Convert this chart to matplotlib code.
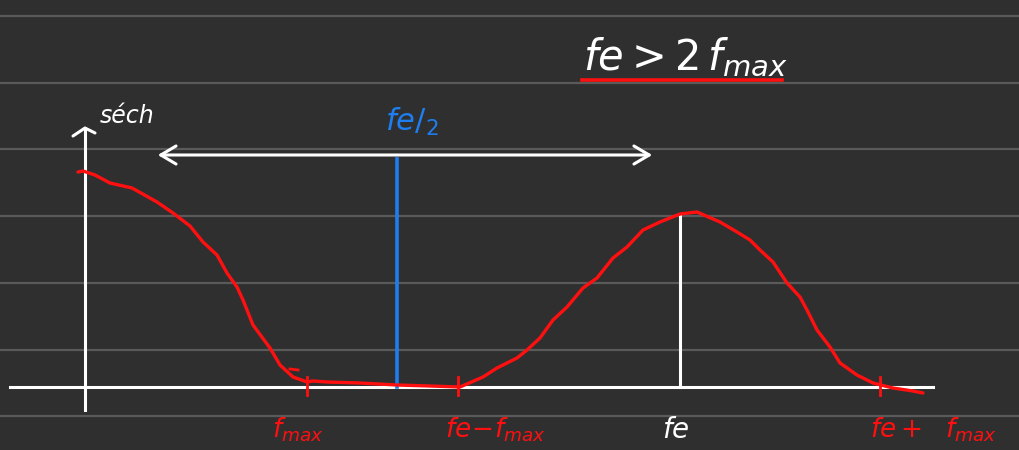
import numpy as np
import matplotlib
matplotlib.use("Agg")
import matplotlib.pyplot as plt

# sketch of a sampled spectrum (pixel-like units: x to the right, amplitude above the axis)
baseline = 387
curve_x = [78, 83, 95, 110, 132, 157, 173, 190, 203, 217, 227, 237, 243, 253, 270, 280,
           293, 307, 313, 327, 360, 397, 430, 460, 483, 497, 517, 527, 540, 553, 567,
           583, 597, 613, 627, 643, 660, 680, 697, 720, 737, 750, 760, 773, 787, 800,
           807, 817, 830, 840, 857, 873, 893, 913, 923]
curve_amp = [215, 216, 212, 204, 199, 185, 174, 161, 145, 132, 114, 100, 87, 62, 39, 22,
             10, 5, 6, 5, 4, 2, 1, 0, 10, 19, 29, 37, 49, 67, 80,
             99, 109, 129, 140, 157, 165, 173, 175, 165, 155, 147, 137, 125, 104, 90,
             77, 57, 40, 24, 12, 4, -1, -4, -6]

rule_y = [16, 83, 149, 216, 283, 350, 416]
tick_x = [307, 458, 880]            # fmax, fe-fmax, fe+fmax
tick_labels = [r'$f_{max}$', r'$fe\!-\!f_{max}$', r'$fe+\ \ f_{max}$']
label_x = [272, 445, 870]
fe_x, fe_amp = 680, 173
half_x, half_top = 397, 228

bg = '#2f2f2f'
red = '#ff1010'
blue = '#1e7ef0'
plt.rcParams['mathtext.fontset'] = 'dejavusans'

fig = plt.figure(figsize=(10.2, 4.5), dpi=100, facecolor=bg)
ax = fig.add_axes([0, 0, 1, 1])
ax.set_facecolor(bg)
ax.set_xlim(0, 1020)
ax.set_ylim(450, 0)
ax.axis('off')

# notebook ruling
for y in rule_y:
    ax.axhline(y, color='#5a5a5a', lw=1.6, zorder=0)

# axes
ax.plot([10, 933], [baseline, baseline], color='white', lw=2.2)
ax.plot([85, 85], [410, 129], color='white', lw=2.2)
ax.plot([73, 85, 95], [136, 128, 133], color='white', lw=2.2,
        solid_capstyle='round', solid_joinstyle='round')

# spectrum
y_curve = baseline - np.array(curve_amp)
ax.plot(curve_x, y_curve, color=red, lw=2.4, solid_capstyle='round',
        solid_joinstyle='round', zorder=3)
ax.plot([290, 298], [369, 370], color=red, lw=2)
for x in tick_x:
    ax.plot([x, x], [baseline - 10, baseline + 8], color=red, lw=2)

# fe line and fe/2 line
ax.plot([fe_x, fe_x], [baseline, baseline - fe_amp], color='white', lw=2.2, zorder=2)
ax.plot([half_x, half_x], [baseline, baseline - half_top], color=blue, lw=2.6)

# double arrow
ax.annotate('', xy=(155, 155), xytext=(655, 155),
            arrowprops=dict(arrowstyle='<->,head_length=1.1,head_width=0.65',
                            color='white', lw=2.2))

# texts
ax.text(583, 70, r'$fe>2\,f_{max}$', color='white', fontsize=30, va='baseline')
ax.plot([582, 782], [80, 80], color=red, lw=2.6)
ax.text(100, 123, 'séch', color='white', fontsize=17, style='italic', va='baseline')
ax.text(385, 131, r'$fe/_2$', color=blue, fontsize=22, va='baseline')
for x, lab in zip(label_x, tick_labels):
    ax.text(x, 438, lab, color=red, fontsize=19, va='baseline')
ax.text(662, 438, r'$fe$', color='white', fontsize=20, va='baseline')

fig.savefig('out.png', dpi=100, facecolor=bg)
